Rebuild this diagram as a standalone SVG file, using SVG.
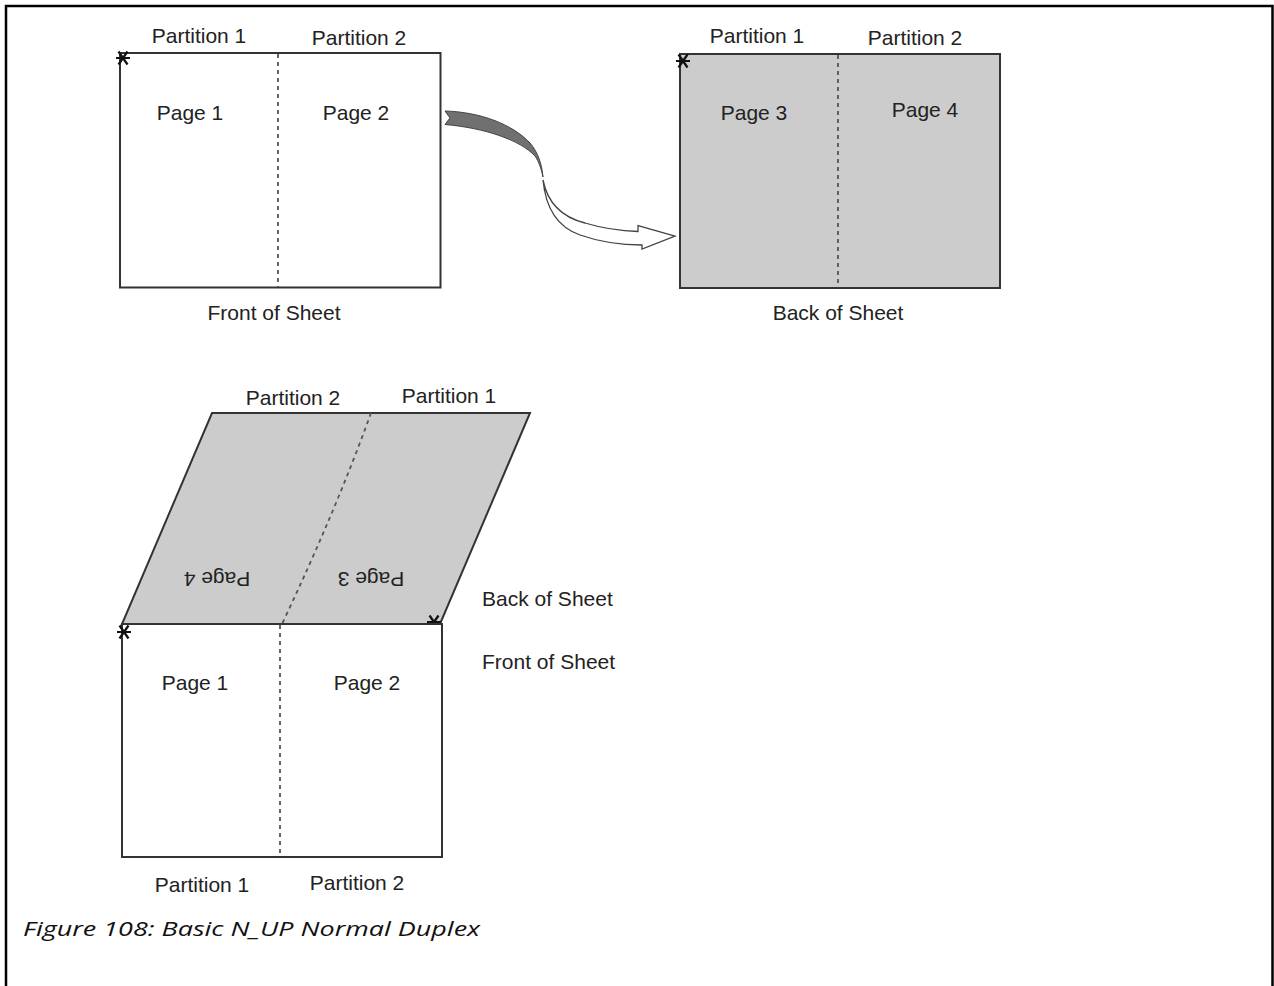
<svg xmlns="http://www.w3.org/2000/svg" width="1274" height="986" viewBox="0 0 1274 986">
<style>
.t{font-family:"Liberation Sans",Arial,sans-serif;font-size:21px;fill:#222}
.m{text-anchor:middle}
.sheet{stroke:#333;stroke-width:2;fill:#fff}
.back{fill:#cccccc}
.dash{stroke:#555;stroke-width:1.8;stroke-dasharray:4 4;fill:none}
.star{stroke:#111;stroke-width:2.2;fill:none}
.cap{font-family:"Open Sans","Noto Sans",sans-serif;font-style:italic;font-size:20px;fill:#111}
</style>
<defs>
<path id="ast" d="M-7,0 H7 M-4.5,-6.5 L4.5,6.5 M-4.5,6.5 L4.5,-6.5" class="star"/>
</defs>
<path d="M6,995 V6 H1272.5 V995" fill="none" stroke="#000" stroke-width="2.5"/>

<g id="front-top">
<rect x="120" y="53" width="320.5" height="234.5" class="sheet"/>
<line x1="278" y1="54" x2="278" y2="287" class="dash"/>
<use href="#ast" x="123" y="58"/>
<text class="t m" x="199" y="43">Partition 1</text>
<text class="t m" x="359" y="45">Partition 2</text>
<text class="t m" x="190" y="120">Page 1</text>
<text class="t m" x="356" y="120">Page 2</text>
<text class="t m" x="274" y="320">Front of Sheet</text>
</g>

<g id="back-top">
<rect x="680" y="54" width="320" height="234" class="sheet back"/>
<line x1="838" y1="55" x2="838" y2="287" class="dash"/>
<use href="#ast" x="683" y="61"/>
<text class="t m" x="757" y="43">Partition 1</text>
<text class="t m" x="915" y="45">Partition 2</text>
<text class="t m" x="754" y="120">Page 3</text>
<text class="t m" x="925" y="117">Page 4</text>
<text class="t m" x="838" y="320">Back of Sheet</text>
</g>

<g id="connectors">
<path d="M445,111 C480,112 512,124 530,143 C538,152 542,165 543,177 C541,168 539,162 535,156 C520,140 485,128 445,124.5 L450,118 Z" fill="#707070" stroke="#444" stroke-width="1"/>
<path d="M543,180 C548,205 565,218 585,223 C605,229 622,231 638,231.5 L638,225.7 L675,236 L642,249 L642,245 C620,245 600,242 580,235 C560,228 546,212 543,180 Z" fill="#fff" stroke="#444" stroke-width="1.3"/>
</g>

<g id="back-flipped">
<polygon points="212,413 530,413 440,624 122,624" class="sheet back"/>
<path d="M371,413 Q336,510 282,624" class="dash"/>
<use href="#ast" x="434" y="622"/>
<text class="t m" x="293" y="405">Partition 2</text>
<text class="t m" x="449" y="403">Partition 1</text>
<text class="t m" x="217" y="586" transform="rotate(180 217 579)">Page 4</text>
<text class="t m" x="371" y="586" transform="rotate(180 371 579)">Page 3</text>
<text class="t" x="482" y="606">Back of Sheet</text>
<text class="t" x="482" y="669">Front of Sheet</text>
</g>

<g id="front-bottom">
<rect x="122" y="624" width="320" height="233" class="sheet"/>
<line x1="280" y1="625" x2="280" y2="856" class="dash"/>
<use href="#ast" x="124" y="632"/>
<text class="t m" x="195" y="690">Page 1</text>
<text class="t m" x="367" y="690">Page 2</text>
<text class="t m" x="202" y="892">Partition 1</text>
<text class="t m" x="357" y="890">Partition 2</text>
</g>

<text class="cap" x="23" y="936" textLength="457" lengthAdjust="spacingAndGlyphs">Figure 108: Basic N_UP Normal Duplex</text>
</svg>
